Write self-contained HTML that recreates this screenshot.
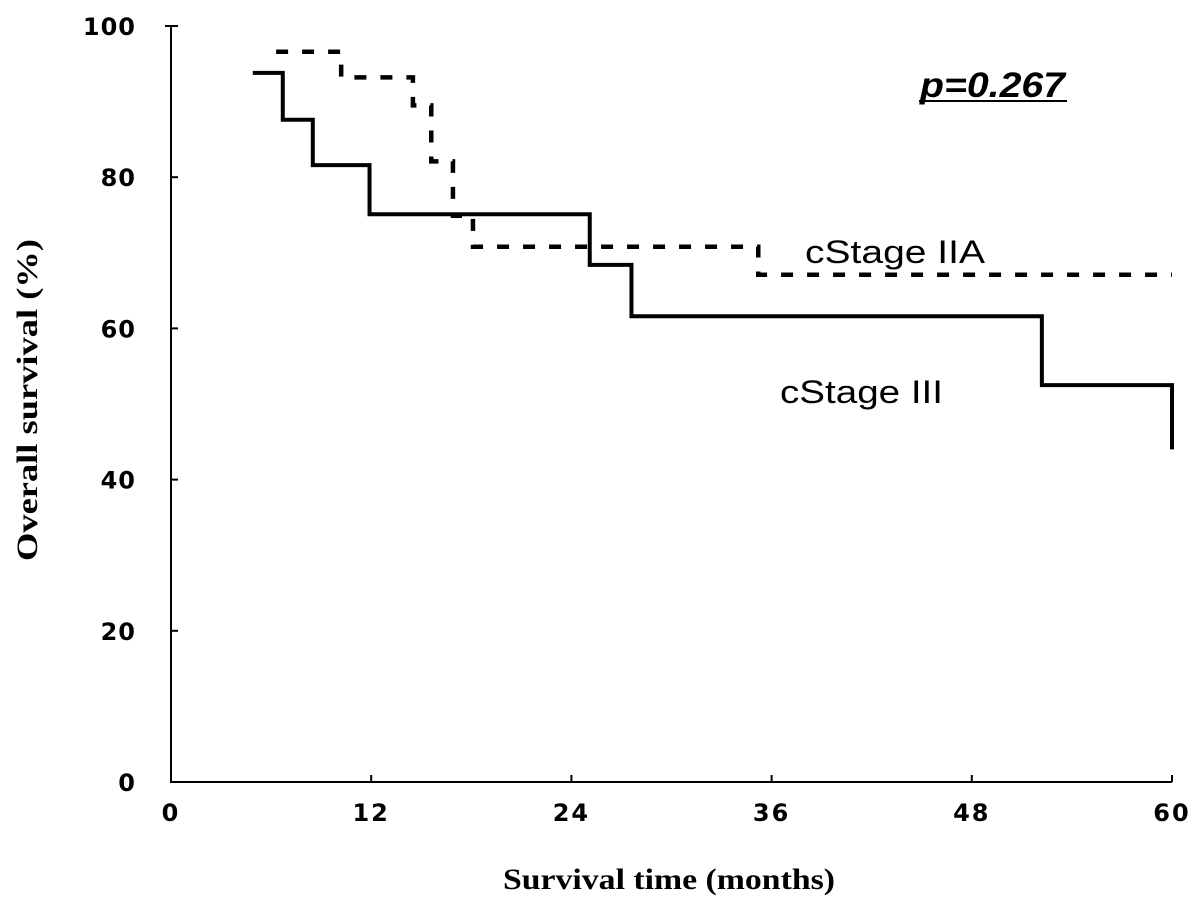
<!DOCTYPE html>
<html><head><meta charset="utf-8"><style>
html,body{margin:0;padding:0;background:#fff;}
svg{display:block;}
</style></head><body>
<svg id="chart" width="1204" height="915" viewBox="0 0 1204 915" xmlns="http://www.w3.org/2000/svg">
<g id="axes"></g>
<g id="series"></g>
<text x="920" y="97" font-family="Liberation Sans, sans-serif" font-weight="bold" font-style="italic" font-size="35" textLength="145" lengthAdjust="spacingAndGlyphs">p=0.267</text>
<line x1="919" y1="101" x2="1067" y2="101" stroke="#000" stroke-width="2"/>
<text x="805" y="263" font-family="Liberation Sans, sans-serif" font-size="32" textLength="180" lengthAdjust="spacingAndGlyphs">cStage IIA</text>
<text x="780" y="403" font-family="Liberation Sans, sans-serif" font-size="32" textLength="163" lengthAdjust="spacingAndGlyphs">cStage III</text>
<text x="669" y="889" text-anchor="middle" font-family="Liberation Serif, serif" font-weight="bold" font-size="30" textLength="332" lengthAdjust="spacingAndGlyphs">Survival time (months)</text>
<text transform="translate(37,400) rotate(-90)" text-anchor="middle" font-family="Liberation Serif, serif" font-weight="bold" font-size="30" textLength="322" lengthAdjust="spacingAndGlyphs">Overall survival (%)</text>
</svg>
<script>
const xTicks = [0, 12, 24, 36, 48, 60];
const yTicks = [0, 20, 40, 60, 80, 100];
const stage3Times = [4.9, 6.7, 8.5, 11.9, 25.1, 27.6, 52.2, 60];
const stage3Surv = [93.8, 87.6, 81.6, 75.1, 68.4, 61.6, 52.5, 44];
const stage2aTimes = [6.3, 10.2, 14.5, 15.6, 16.9, 18.1, 35.2, 60];
const stage2aSurv = [96.6, 93.2, 89.5, 82.1, 74.9, 70.8, 67.1, 67.1];

const X0 = 171, X1 = 1172, Y0 = 782, Y1 = 26;
const xs = v => X0 + (v - 0) / 60 * (X1 - X0);
const ys = v => Y0 - v / 100 * (Y0 - Y1);
const NS = 'http://www.w3.org/2000/svg';
const axes = document.getElementById('axes');
const series = document.getElementById('series');
function mk(tag, attrs, parent) {
  const e = document.createElementNS(NS, tag);
  for (const k in attrs) e.setAttribute(k, attrs[k]);
  parent.appendChild(e);
  return e;
}
let a = mk('path', {d: `M${X0} ${Y1} H${X0-6} M${X0} ${Y1} V${Y0} H${X1}`, stroke: '#000', 'stroke-width': 2, fill: 'none'}, axes);


xTicks.forEach(t => {
  const l = mk('line', {x1: xs(t), x2: xs(t), y1: Y0, y2: Y0 - 7, stroke: '#000', 'stroke-width': 2}, axes);
  
  
  const tx = mk('text', {x: xs(t), y: 821, 'text-anchor': 'middle', 'font-family': 'DejaVu Sans, sans-serif', 'font-weight': 'bold', 'font-size': 24, 'letter-spacing': 2}, axes);
  tx.textContent = t;
  
  
});
yTicks.forEach(t => {
  const l = mk('line', {x1: X0, x2: X0 + 7, y1: ys(t), y2: ys(t), stroke: '#000', 'stroke-width': 2}, axes);
  
  
  const tx = mk('text', {x: 136, y: ys(t) + 9, 'text-anchor': 'end', 'font-family': 'DejaVu Sans, sans-serif', 'font-weight': 'bold', 'font-size': 24, 'letter-spacing': 1}, axes);
  tx.textContent = t;
  
  
});
function stepPath(times, surv) {
  let d = `M${xs(times[0])} ${ys(surv[0])}`;
  for (let i = 1; i < times.length; i++) {
    d += ` H${xs(times[i])} V${ys(surv[i])}`;
  }
  return d;
}
const s3 = mk('path', {d: stepPath(stage3Times, stage3Surv), stroke: '#000', 'stroke-width': 4, fill: 'none'}, series);


const s2 = mk('path', {d: stepPath(stage2aTimes, stage2aSurv), stroke: '#000', 'stroke-width': 4.5, fill: 'none', 'stroke-dasharray': '12 14'}, series);


</script>
</body></html>
